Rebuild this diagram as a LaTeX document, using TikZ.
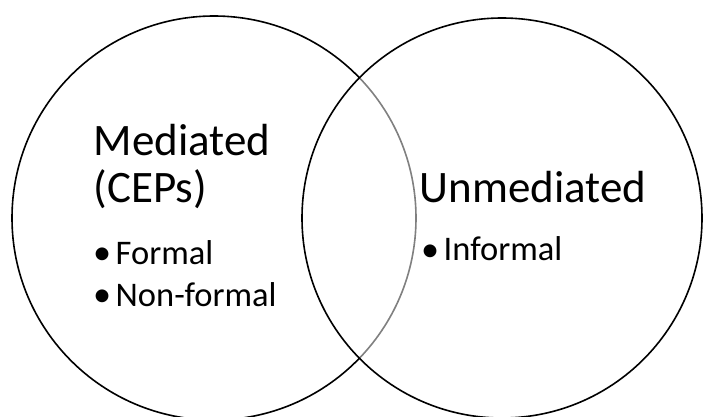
\documentclass[tikz,border=0pt]{standalone}
\usepackage{fontspec}
\setmainfont{Carlito}
\newcommand{\bulletmark}{\makebox[22.5pt][l]{\raisebox{-0.6pt}{\scalebox{1.05}{•}}}}
\begin{document}
\begin{tikzpicture}[x=1pt,y=-1pt,
    ring/.style={circle,draw,line width=1.6pt,inner sep=0pt},
    big/.style={anchor=base west,inner sep=0pt,font=\fontsize{45}{48}\selectfont},
    item/.style={anchor=base west,inner sep=0pt,font=\fontsize{34.5}{40}\selectfont}]
  \useasboundingbox (0,0) rectangle (705,417);
  \draw
    (214,218) node[ring,minimum size=404pt] (med){}
    (502,218) node[ring,minimum size=400pt,fill=white,fill opacity=0.5] (unmed){};
  \node[big] (medtitle) at (93.5,156) {Mediated};
  \node[big] (ceps) at (93.5,203) {(CEPs)};
  \node[item] (formal) at (93,264.3) {\bulletmark Formal};
  \node[item] (nonformal) at (93,306) {\bulletmark Non-formal};
  \node[big] (unmedtitle) at (419.5,203) {Unmediated};
  \node[item] (informal) at (421,260.7) {\bulletmark Informal};
\end{tikzpicture}
\end{document}
